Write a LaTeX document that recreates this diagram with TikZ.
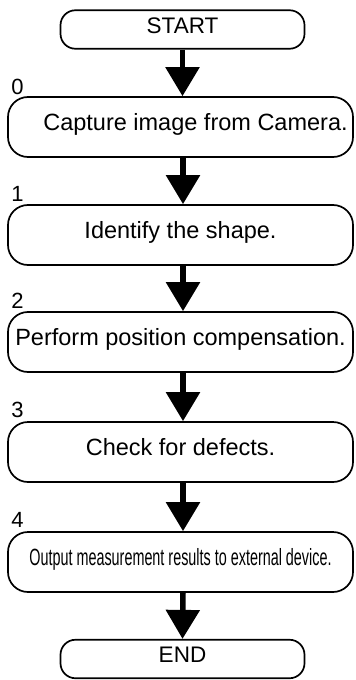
\documentclass[tikz,border=0pt]{standalone}
\usepackage{fontspec}
\usepackage{graphicx}
\setmainfont{Liberation Sans}
\usetikzlibrary{arrows.meta}
\begin{document}
\begin{tikzpicture}[x=1bp,y=-1bp,
  box/.style={draw=black, line width=1.7bp, rounded corners=20bp, inner sep=0pt,
    minimum width=345bp, minimum height=60bp, text height=0.716em, text depth=0pt,
    font=\fontsize{23.5bp}{28bp}\selectfont},
  term/.style={box, rounded corners=15bp, minimum width=244bp, minimum height=38.5bp,
    font=\fontsize{22.5bp}{27bp}\selectfont},
  num/.style={anchor=base west, inner sep=0pt, font=\fontsize{22bp}{26bp}\selectfont},
  flow/.style={line width=5.5bp, -{Triangle[width=33bp,length=29bp]}}
]
\useasboundingbox (0,0) rectangle (355,680);
\node[term] (start) at (182.5,29.5) {START};
\node[box] (b0) at (180.5,127) {\hspace*{30bp}Capture image from Camera.};
\node[box] (b1) at (180.5,235) {Identify the shape.};
\node[box] (b2) at (180.5,342) {Perform position compensation.};
\node[box] (b3) at (180.5,452) {Check for defects.};
\node[box] (b4) at (180.5,562) {\scalebox{0.612}[1]{Output measurement results to external device.}};
\node[term] (end) at (182.5,659) {END};

\node[num] (n0) at ([xshift=4bp,yshift=2bp]b0.north west) {0};
\node[num] (n1) at ([xshift=4bp,yshift=2.5bp]b1.north west) {1};
\node[num] (n2) at ([xshift=4bp,yshift=2.5bp]b2.north west) {2};
\node[num] (n3) at ([xshift=4bp,yshift=3.5bp]b3.north west) {3};
\node[num] (n4) at ([xshift=4bp,yshift=4bp]b4.north west) {4};

\draw[flow] (start.south) -- (start.south |- b0.north);
\draw[flow] ([xshift=2.5bp]b0.south) -- ([xshift=2.5bp]b1.north);
\draw[flow] ([xshift=2.5bp]b1.south) -- ([xshift=2.5bp]b2.north);
\draw[flow] ([xshift=2.5bp]b2.south) -- ([xshift=2.5bp]b3.north);
\draw[flow] ([xshift=2.5bp]b3.south) -- ([xshift=2.5bp]b4.north);
\draw[flow] ([xshift=2.5bp]b4.south) -- (end.north);
\end{tikzpicture}
\end{document}
